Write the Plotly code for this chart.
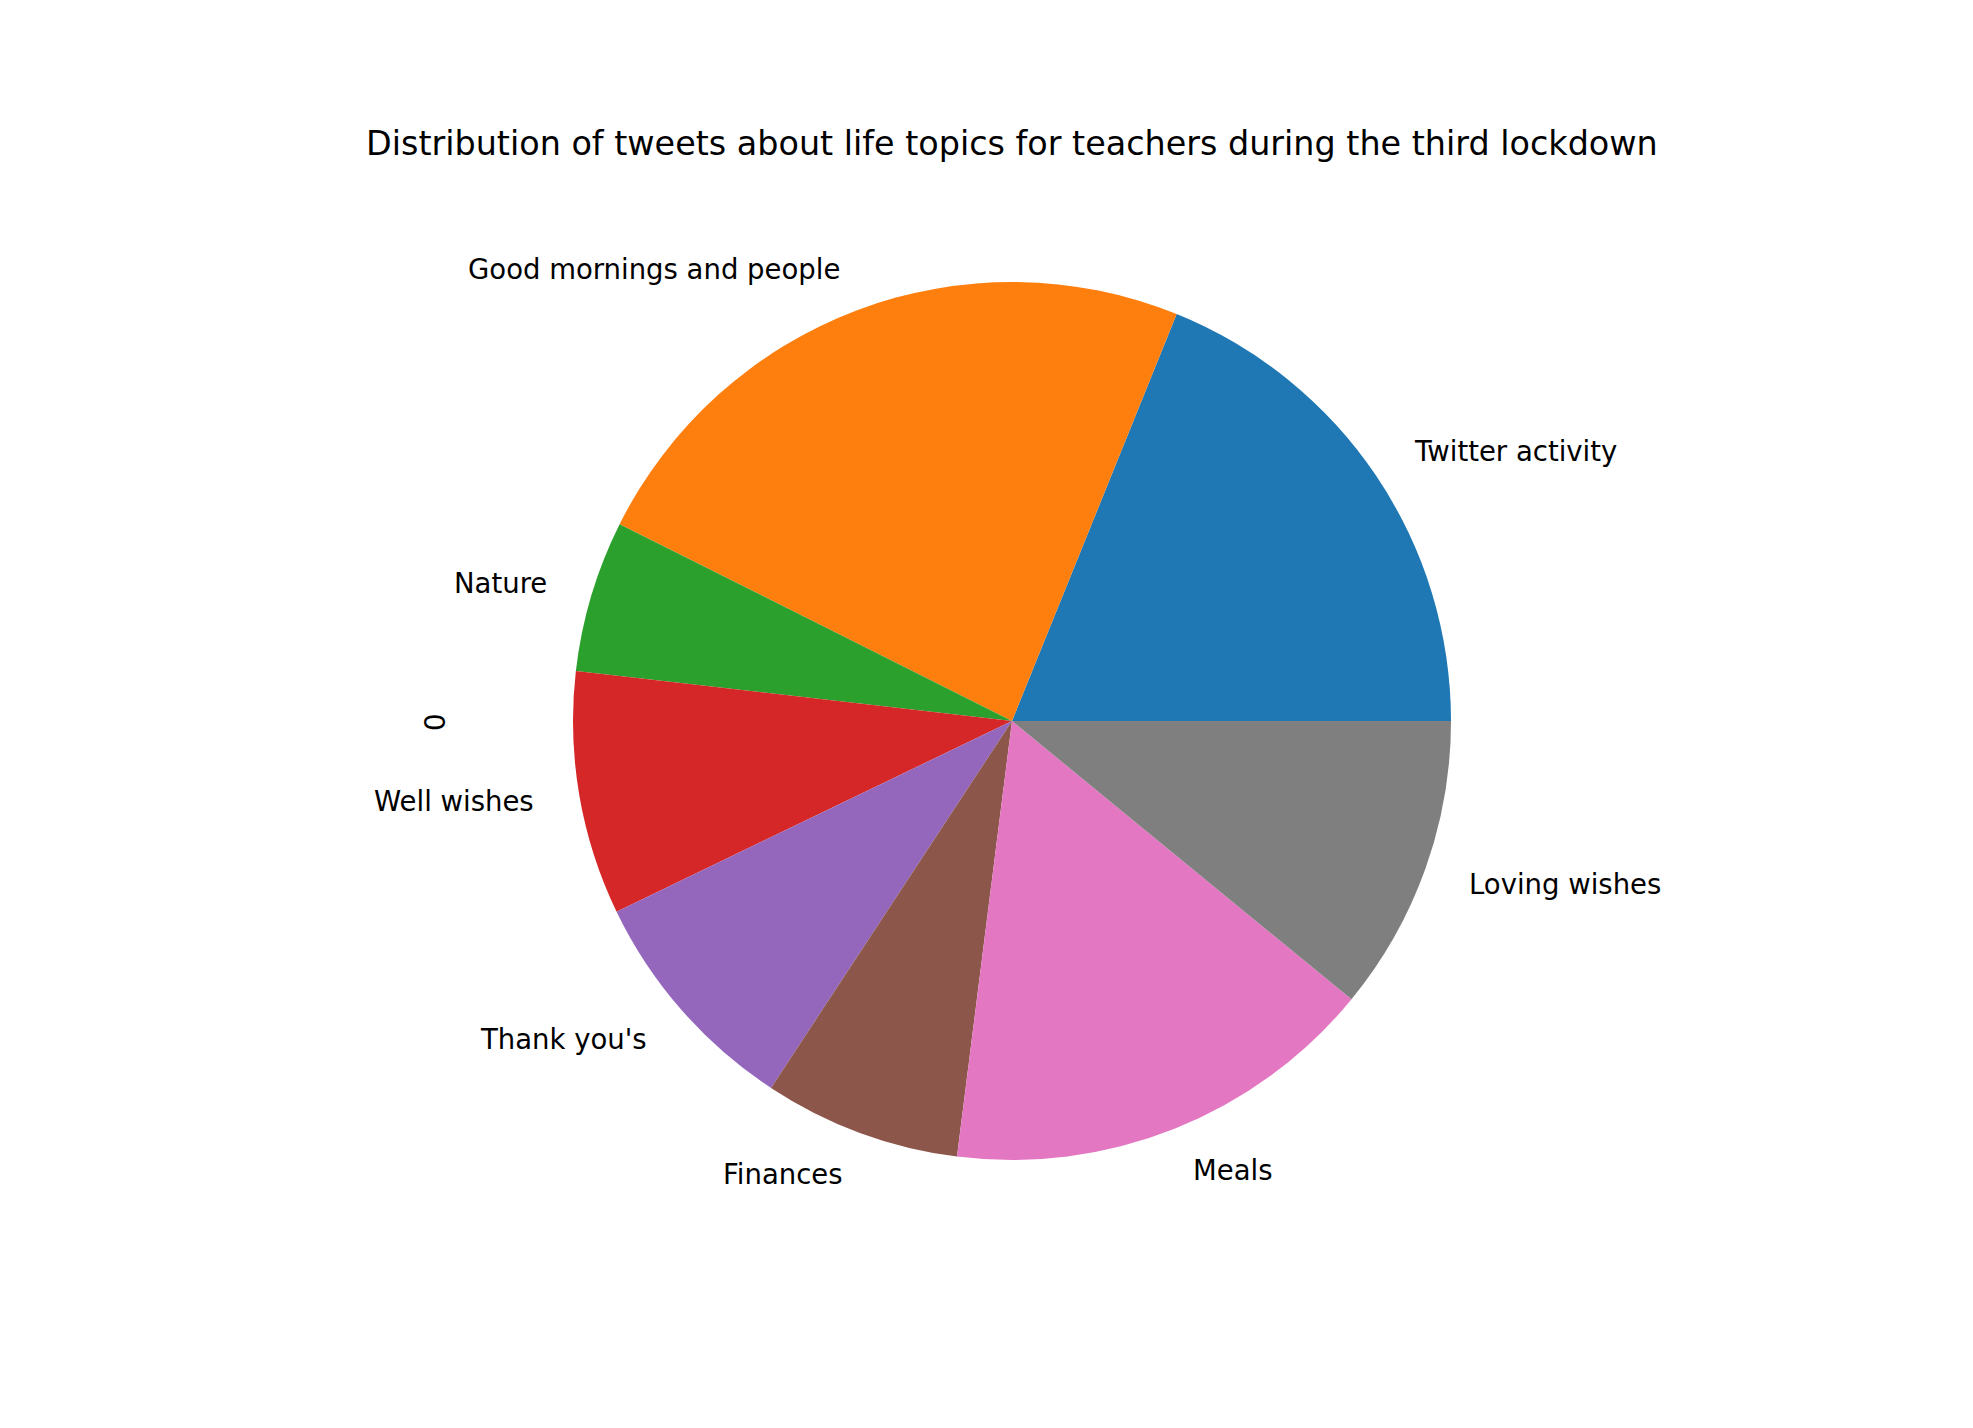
import math
import plotly.graph_objects as go

labels = ["Twitter activity", "Good mornings and people", "Nature", "Well wishes",
          "Thank you's", "Finances", "Meals", "Loving wishes"]
values = [18.88, 23.72, 5.58, 8.97, 8.60, 7.25, 16.07, 10.93]
colors = ["#1f77b4", "#ff7f0e", "#2ca02c", "#d62728",
          "#9467bd", "#8c564b", "#e377c2", "#7f7f7f"]
title = "Distribution of tweets about life topics for teachers during the third lockdown"
ylabel = "0"

W, H = 1973, 1428
OFF = 8  # page body margin offset
cx, cy, r = 1012 - OFF, 721 - OFF, 439  # pie centre/radius in figure pixels
FONT = "DejaVu Sans"

total = sum(values)
fig = go.Figure()
fig.add_trace(go.Pie(
    labels=labels, values=values, sort=False, direction="counterclockwise",
    rotation=90 - 360.0 * values[0] / total, textinfo="none", hoverinfo="skip",
    marker=dict(colors=colors, line=dict(width=0)),
    domain=dict(x=[(cx - r) / W, (cx + r) / W], y=[1 - (cy + r) / H, 1 - (cy - r) / H]),
    showlegend=False,
))

annotations = []
cum = 0.0
for lab, v in zip(labels, values):
    mid = math.radians(360.0 * (cum + v / 2) / total)
    cum += v
    px = cx + 1.1 * r * math.cos(mid)
    py = cy - 1.1 * r * math.sin(mid)
    annotations.append(dict(
        x=px / W, y=1 - py / H, xref="paper", yref="paper", text=lab,
        showarrow=False, xanchor="left" if math.cos(mid) >= 0 else "right",
        yanchor="middle", font=dict(family=FONT, size=27.5, color="black")))

annotations.append(dict(x=cx / W, y=1 - (143 - OFF) / H, xref="paper", yref="paper", text=title,
                        showarrow=False, xanchor="center", yanchor="middle",
                        font=dict(family=FONT, size=33.4, color="black")))
annotations.append(dict(x=(435 - OFF) / W, y=1 - (722 - OFF) / H, xref="paper", yref="paper",
                        text=ylabel, showarrow=False, xanchor="center", yanchor="middle",
                        textangle=-90, font=dict(family=FONT, size=27.5, color="black")))

fig.update_layout(width=W, height=H, margin=dict(l=0, r=0, t=0, b=0),
                  paper_bgcolor="white", plot_bgcolor="white", annotations=annotations)
fig.write_html("out.html")
